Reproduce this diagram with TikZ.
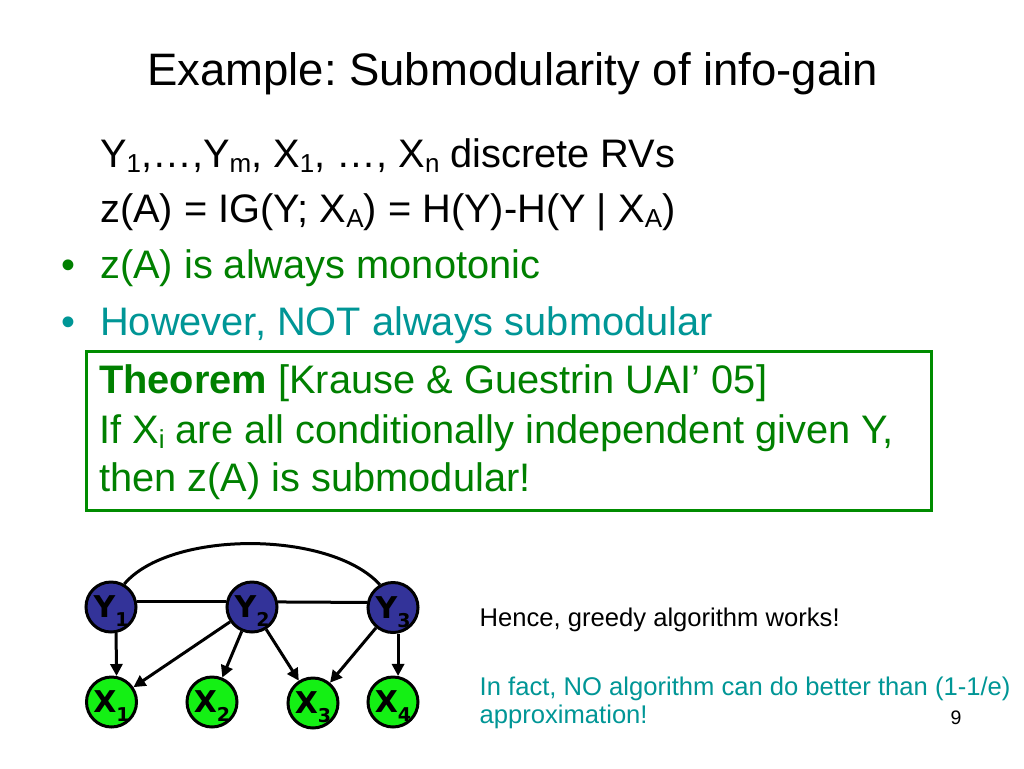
\documentclass[tikz,border=0pt]{standalone}
\usepackage{fontspec}
\setmainfont{Liberation Sans}
\newfontfamily\nodefont{DejaVu Sans}
\usetikzlibrary{arrows.meta}
\frenchspacing
\definecolor{txtgreen}{RGB}{0,128,0}
\definecolor{tealtxt}{RGB}{0,150,150}
\definecolor{boxgreen}{RGB}{0,140,0}
\definecolor{ynode}{RGB}{51,51,153}
\definecolor{xnode}{RGB}{20,240,20}
\newcommand\subM[1]{\raisebox{-5pt}{\fontsize{26}{26}\selectfont #1}}
\newcommand\subN[1]{\raisebox{-9pt}{\fontsize{19}{19}\selectfont #1}}
\tikzset{
  body/.style={anchor=base west, inner sep=0pt, font=\fontsize{39.8}{44}\selectfont},
  boxtxt/.style={anchor=base west, inner sep=0pt, font=\fontsize{39.8}{44}\selectfont, text=txtgreen},
  smalltxt/.style={anchor=base west, inner sep=0pt, font=\fontsize{25.6}{28}\selectfont},
  gnode/.style={circle, draw=black, line width=3pt, minimum size=50pt, inner sep=0pt,
    font=\nodefont\bfseries\fontsize{30}{30}\selectfont, text height=21pt, text depth=0pt},
  ynd/.style={gnode, fill=ynode},
  xnd/.style={gnode, fill=xnode},
  edgeline/.style={line width=3pt},
  arr/.style={line width=3pt, -{Triangle[length=12pt,width=12pt]}},
}
\begin{document}
\begin{tikzpicture}[x=1pt,y=-1pt]
\useasboundingbox (0,0) rectangle (1024,768);
\fill[white] (0,0) rectangle (1024,768);

\node[anchor=base, inner sep=0pt, font=\fontsize{45.5}{50}\selectfont] (title) at (512.5,85) {Example: Submodularity of info-gain};

\node[body] (l1) at (100,167) {Y\subM{1},…,Y\subM{m}, X\subM{1}, …, X\subM{n} discrete RVs};
\node[body] (l2) at (100,222) {z(A) = IG(Y; X\subM{A}) = H(Y)-H(Y | X\subM{A})};
\node[body, text=txtgreen] (b1) at (61,278) {•};
\node[body, text=txtgreen] (l3) at (100,278) {z(A) is always monotonic};
\node[body, text=tealtxt] (b2) at (61,335.5) {•};
\node[body, text=tealtxt] (l4) at (100,335.5) {However, NOT always submodular};

\node[draw=boxgreen, line width=3pt, anchor=north west, minimum width=845pt, minimum height=159.5pt, inner sep=0pt] (thm) at (85,349.5) {};
\node[boxtxt] (t1) at (99,393) {\textbf{Theorem} [Krause \& Guestrin UAI’ 05]};
\node[boxtxt] (t2) at (99,443) {If X\subM{i} are all conditionally independent given Y,};
\node[boxtxt] (t3) at (99,491.7) {then z(A) is submodular!};

\node[ynd] (Y1) at (111,607) {Y\subN{1}};
\node[ynd] (Y2) at (252,607) {Y\subN{2}};
\node[ynd] (Y3) at (393,607.5) {Y\subN{3}};
\node[xnd] (X1) at (111.5,702) {X\subN{1}};
\node[xnd] (X2) at (212,702) {X\subN{2}};
\node[xnd] (X3) at (313,703) {X\subN{3}};
\node[xnd] (X4) at (393,702) {X\subN{4}};

\draw[edgeline] (Y1.11) -- (Y2.169);
\draw[edgeline] (Y2.11) -- (Y3.169);
\draw[edgeline] (Y1.60) .. controls (170,530) and (330,530) .. (Y3.120);
\draw[arr] (Y1.-79) -- (X1.79);
\draw[arr] (Y2) -- (X1);
\draw[arr] (Y2) -- (X2);
\draw[arr] (Y2) -- (X3);
\draw[arr] (Y3) -- (X3);
\draw[arr] (Y3.-79) -- (X4.79);

\node[smalltxt] (hence) at (479.5,626.7) {Hence, greedy algorithm works!};
\node[smalltxt, text=tealtxt] (fact) at (479.5,695.7) {In fact, NO algorithm can do better than (1-1/e)};
\node[smalltxt, text=tealtxt] (approx) at (479.5,723.3) {approximation!};
\node[anchor=base, inner sep=0pt, font=\fontsize{19.5}{20}\selectfont] (pg) at (956,724) {9};
\end{tikzpicture}
\end{document}
